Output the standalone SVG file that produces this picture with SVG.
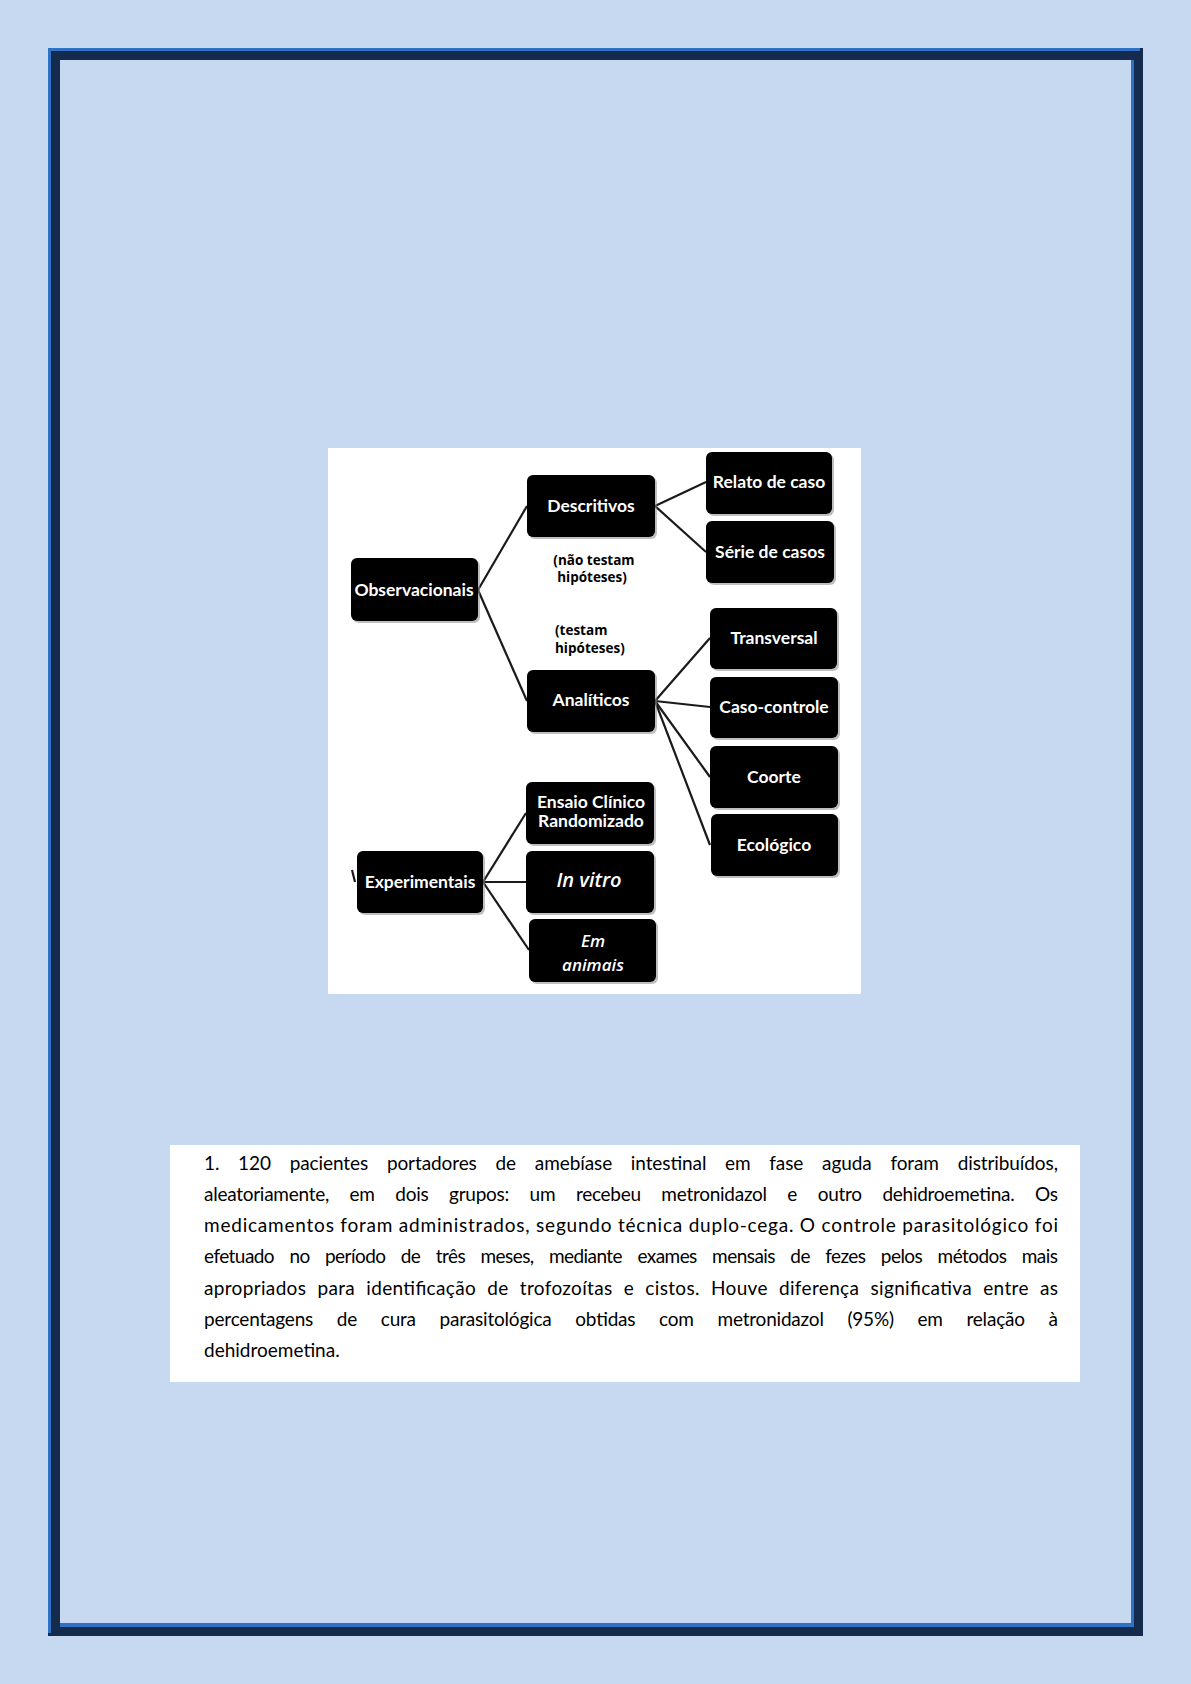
<svg xmlns="http://www.w3.org/2000/svg" width="1191" height="1684" viewBox="0 0 1191 1684">
<style>
.bg{fill:#c6d9f1}
.navy{fill:#142b4d}
.blue{fill:#2f71c4}
.shadow{fill:#8a8a8a;opacity:0.55}
.box{fill:#000}
.lbl{font-family:Lato,"Open Sans",sans-serif;font-weight:700;font-size:17.5px;fill:#fff;text-anchor:middle}
.ital{font-family:"Open Sans","Noto Sans",sans-serif;font-style:italic;font-weight:600;fill:#fff;text-anchor:middle}
.note{font-family:"Open Sans","Noto Sans",sans-serif;font-weight:700;font-size:13.5px;fill:#000}
.conn line,.conn path{stroke:#1a1a1a;stroke-width:2.2;fill:none}
.para{font-family:Lato,"Open Sans",sans-serif;font-size:19px;fill:#000}
</style>
<rect class="bg" x="0" y="0" width="1191" height="1684"/>
<g id="border">
<rect class="navy" x="48" y="48" width="1095" height="1588"/>
<rect class="blue" x="48" y="48" width="1092" height="3"/>
<rect class="blue" x="48" y="48" width="3" height="1585"/>
<rect class="blue" x="60" y="60" width="1074" height="1567"/>
<rect class="bg" x="60" y="60" width="1071" height="1563"/>
</g>
<rect x="328" y="448" width="533" height="546" fill="#fff"/>
<g class="conn" id="connectors">
<line x1="478" y1="590" x2="527" y2="506"/>
<line x1="478" y1="590" x2="527" y2="701"/>
<line x1="655" y1="506" x2="706" y2="482"/>
<line x1="655" y1="506" x2="706" y2="552"/>
<line x1="655" y1="701" x2="710" y2="638"/>
<line x1="655" y1="701" x2="710" y2="707"/>
<line x1="655" y1="701" x2="710" y2="777"/>
<line x1="655" y1="701" x2="710" y2="845"/>
<line x1="483" y1="882" x2="526" y2="813"/>
<line x1="483" y1="882" x2="526" y2="882"/>
<line x1="483" y1="882" x2="529" y2="950"/>
<path d="M352 870 L355 882" stroke-width="1.5"/>
</g>
<g id="observacionais">
<rect class="shadow" x="353" y="560" width="127" height="63" rx="6"/>
<rect class="box" x="351" y="558" width="127" height="63" rx="6"/>
<text class="lbl" x="414" y="596">Observacionais</text>
</g>
<g id="descritivos">
<rect class="shadow" x="529" y="477" width="128" height="62" rx="6"/>
<rect class="box" x="527" y="475" width="128" height="62" rx="6"/>
<text class="lbl" x="591" y="512">Descritivos</text>
</g>
<g id="relato">
<rect class="shadow" x="708" y="454" width="126" height="62" rx="6"/>
<rect class="box" x="706" y="452" width="126" height="62" rx="6"/>
<text class="lbl" x="769" y="488">Relato de caso</text>
</g>
<g id="serie">
<rect class="shadow" x="708" y="523" width="128" height="62" rx="6"/>
<rect class="box" x="706" y="521" width="128" height="62" rx="6"/>
<text class="lbl" x="770" y="558">Série de casos</text>
</g>
<g id="nota1">
<text class="note" x="594" y="565" text-anchor="middle">(não testam</text>
<text class="note" x="592" y="582" text-anchor="middle">hipóteses)</text>
</g>
<g id="nota2">
<text class="note" x="555" y="635">(testam</text>
<text class="note" x="555" y="653">hipóteses)</text>
</g>
<g id="transversal">
<rect class="shadow" x="712" y="610" width="127" height="61" rx="6"/>
<rect class="box" x="710" y="608" width="127" height="61" rx="6"/>
<text class="lbl" x="774" y="644">Transversal</text>
</g>
<g id="analiticos">
<rect class="shadow" x="529" y="672" width="128" height="62" rx="6"/>
<rect class="box" x="527" y="670" width="128" height="62" rx="6"/>
<text class="lbl" x="591" y="706">Analíticos</text>
</g>
<g id="caso-controle">
<rect class="shadow" x="712" y="679" width="128" height="61" rx="6"/>
<rect class="box" x="710" y="677" width="128" height="61" rx="6"/>
<text class="lbl" x="774" y="713">Caso-controle</text>
</g>
<g id="coorte">
<rect class="shadow" x="712" y="748" width="128" height="62" rx="6"/>
<rect class="box" x="710" y="746" width="128" height="62" rx="6"/>
<text class="lbl" x="774" y="783">Coorte</text>
</g>
<g id="ecologico">
<rect class="shadow" x="713" y="816" width="127" height="62" rx="6"/>
<rect class="box" x="711" y="814" width="127" height="62" rx="6"/>
<text class="lbl" x="774" y="851">Ecológico</text>
</g>
<g id="ensaio">
<rect class="shadow" x="528" y="784" width="128" height="62" rx="6"/>
<rect class="box" x="526" y="782" width="128" height="62" rx="6"/>
<text class="lbl" x="591" y="808">Ensaio Clínico</text>
<text class="lbl" x="591" y="827">Randomizado</text>
</g>
<g id="experimentais">
<rect class="shadow" x="359" y="853" width="126" height="62" rx="6"/>
<rect class="box" x="357" y="851" width="126" height="62" rx="6"/>
<text class="lbl" x="420" y="888">Experimentais</text>
</g>
<g id="invitro">
<rect class="shadow" x="528" y="853" width="128" height="62" rx="6"/>
<rect class="box" x="526" y="851" width="128" height="62" rx="6"/>
<text class="ital" x="589" y="887" font-size="20">In vitro</text>
</g>
<g id="emanimais">
<rect class="shadow" x="531" y="921" width="127" height="63" rx="6"/>
<rect class="box" x="529" y="919" width="127" height="63" rx="6"/>
<text class="ital" x="593" y="947" font-size="17">Em</text>
<text class="ital" x="593" y="971" font-size="17">animais</text>
</g>
<rect x="170" y="1145" width="910" height="237" fill="#fff"/>
<g id="questao" class="para">
<text x="204" y="1170" word-spacing="14" textLength="854" lengthAdjust="spacing">1. 120 pacientes portadores de amebíase intestinal em fase aguda foram distribuídos,</text>
<text x="204" y="1201" word-spacing="16" textLength="854" lengthAdjust="spacing">aleatoriamente, em dois grupos: um recebeu metronidazol e outro dehidroemetina. Os</text>
<text x="204" y="1232" textLength="854" lengthAdjust="spacing">medicamentos foram administrados, segundo técnica duplo-cega. O controle parasitológico foi</text>
<text x="204" y="1263" word-spacing="11" textLength="854" lengthAdjust="spacing">efetuado no período de três meses, mediante exames mensais de fezes pelos métodos mais</text>
<text x="204" y="1295" word-spacing="6" textLength="854" lengthAdjust="spacing">apropriados para identificação de trofozoítas e cistos. Houve diferença significativa entre as</text>
<text x="204" y="1326" word-spacing="19" textLength="854" lengthAdjust="spacing">percentagens de cura parasitológica obtidas com metronidazol (95%) em relação à</text>
<text x="204" y="1357">dehidroemetina.</text>
</g>
</svg>
